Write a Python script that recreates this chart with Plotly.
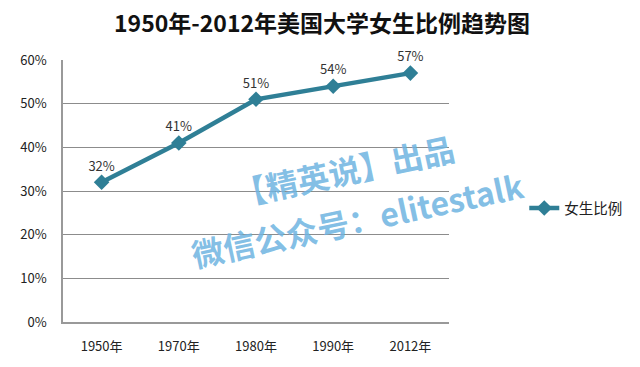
import plotly.graph_objects as go

years = ["1950年", "1970年", "1980年", "1990年", "2012年"]
female_ratio = [0.32, 0.41, 0.51, 0.54, 0.57]
labels = ["32%", "41%", "51%", "54%", "57%"]
y_ticks = [0, 0.1, 0.2, 0.3, 0.4, 0.5, 0.6]
y_tick_text = ["0%", "10%", "20%", "30%", "40%", "50%", "60%"]
series_name = "女生比例"
title_text = "1950年-2012年美国大学女生比例趋势图"
watermark_1 = "【精英说】出品"
watermark_2 = "微信公众号：elitestalk"

font_family = "Noto Sans CJK SC, Liberation Sans, sans-serif"
teal = "#2F7F96"
wm_color = "rgba(110,180,225,0.85)"

fig = go.Figure()
fig.add_trace(go.Scatter(
    x=years, y=female_ratio, name=series_name,
    mode="lines+markers+text",
    text=labels, textposition="top center", cliponaxis=False,
    textfont=dict(size=13, color="#333333", family=font_family),
    line=dict(color=teal, width=4.5),
    marker=dict(symbol="diamond", size=12, color=teal),
))

fig.add_annotation(text=watermark_1, xref="paper", yref="paper", x=0.728, y=0.58,
                   xanchor="center", yanchor="middle",
                   showarrow=False, textangle=-12,
                   font=dict(size=32, color=wm_color, family=font_family, weight="bold"))
fig.add_annotation(text=watermark_2, xref="paper", yref="paper", x=0.762, y=0.395,
                   xanchor="center", yanchor="middle",
                   showarrow=False, textangle=-12,
                   font=dict(size=32, color=wm_color, family=font_family, weight="bold"))

# chart title as a centred annotation in the top margin
fig.add_annotation(text=f"<b>{title_text}</b>", xref="paper", yref="paper",
                   x=(312 - 49) / 392, y=1 + 38 / 262,
                   xanchor="center", yanchor="middle", showarrow=False,
                   font=dict(size=23, color="#111111", family=font_family))

fig.update_layout(
    width=632, height=359,
    paper_bgcolor="white", plot_bgcolor="white",
    margin=dict(l=49, r=191, t=52, b=45),
    showlegend=True,
    legend=dict(x=1.195, y=0.435, xanchor="left", yanchor="middle",
                itemwidth=30, borderwidth=0,
                font=dict(size=14.5, color="#222222", family=font_family),
                bgcolor="rgba(0,0,0,0)"),
    xaxis=dict(type="category", showgrid=False, showline=True, linecolor="#999999", linewidth=1.5,
               ticks="", ticklabelstandoff=12,
               tickfont=dict(size=13, color="#222222", family=font_family),
               range=[-0.5, 4.5]),
    yaxis=dict(range=[0, 0.6], tickvals=y_ticks, ticktext=y_tick_text,
               showgrid=True, gridcolor="#8c8c8c", gridwidth=1,
               showline=True, linecolor="#999999", linewidth=1.5, zeroline=False,
               ticks="", ticklabelstandoff=12,
               tickfont=dict(size=13, color="#222222", family=font_family)),
)

fig.write_html("out.html")
